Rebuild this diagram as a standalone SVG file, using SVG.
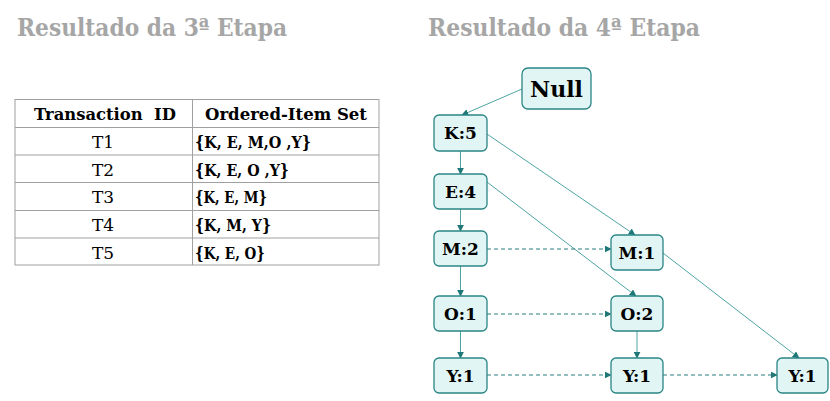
<svg xmlns="http://www.w3.org/2000/svg" width="830" height="401" viewBox="0 0 830 401">
<defs>
<style>
.title{font-family:"DejaVu Serif","Liberation Serif",serif;font-weight:bold;font-size:24px;fill:#a6a6a6}
.th{font-family:"DejaVu Serif","Liberation Serif",serif;font-weight:bold;font-size:16px;fill:#000;white-space:pre}
.td{font-family:"DejaVu Serif","Liberation Serif",serif;font-size:17px;fill:#000}
.tdb{font-family:"DejaVu Serif","Liberation Serif",serif;font-weight:bold;font-size:16.5px;fill:#000}
.grid{stroke:#a0a0a0;stroke-width:1;fill:none}
.node rect{fill:#e1f5f4;stroke:#2a8585;stroke-width:1.3}
.node text{font-family:"DejaVu Serif","Liberation Serif",serif;font-weight:bold;font-size:17px;fill:#000;text-anchor:middle}
.e{stroke:#3a9a9a;stroke-width:0.9;fill:none;marker-end:url(#ah)}
.d{stroke:#2a7f7f;stroke-width:1;fill:none;stroke-dasharray:4,3;marker-end:url(#ah)}
</style>
<marker id="ah" viewBox="0 0 10 10" refX="9" refY="5" markerWidth="7" markerHeight="7" markerUnits="userSpaceOnUse" orient="auto">
<path d="M0,0 L10,5 L0,10 z" fill="#1f7777"/>
</marker>
</defs>
<rect width="830" height="401" fill="#fff"/>
<text class="title" x="17" y="36" textLength="270" lengthAdjust="spacingAndGlyphs">Resultado da 3ª Etapa</text>
<text class="title" x="428" y="36" textLength="272" lengthAdjust="spacingAndGlyphs">Resultado da 4ª Etapa</text>

<g id="table">
<rect class="grid" x="15" y="99.5" width="364" height="165.5"/>
<line class="grid" x1="192.5" y1="99.5" x2="192.5" y2="265"/>
<line class="grid" x1="15" y1="127.5" x2="379" y2="127.5"/>
<line class="grid" x1="15" y1="155" x2="379" y2="155"/>
<line class="grid" x1="15" y1="182.5" x2="379" y2="182.5"/>
<line class="grid" x1="15" y1="210.5" x2="379" y2="210.5"/>
<line class="grid" x1="15" y1="238" x2="379" y2="238"/>
<text class="th" x="34" y="120" textLength="142" lengthAdjust="spacingAndGlyphs">Transaction  ID</text>
<text class="th" x="205" y="120" textLength="162" lengthAdjust="spacingAndGlyphs">Ordered-Item Set</text>
<text class="td" x="103" y="148" text-anchor="middle">T1</text>
<text class="td" x="103" y="175.5" text-anchor="middle">T2</text>
<text class="td" x="103" y="203" text-anchor="middle">T3</text>
<text class="td" x="103" y="231" text-anchor="middle">T4</text>
<text class="td" x="103" y="258.5" text-anchor="middle">T5</text>
<text class="tdb" x="195" y="148" textLength="116" lengthAdjust="spacingAndGlyphs">{K, E, M,O ,Y}</text>
<text class="tdb" x="195" y="175.5" textLength="94" lengthAdjust="spacingAndGlyphs">{K, E, O ,Y}</text>
<text class="tdb" x="195" y="203" textLength="72" lengthAdjust="spacingAndGlyphs">{K, E, M}</text>
<text class="tdb" x="195" y="231" textLength="76" lengthAdjust="spacingAndGlyphs">{K, M, Y}</text>
<text class="tdb" x="195" y="258.5" textLength="70" lengthAdjust="spacingAndGlyphs">{K, E, O}</text>
</g>

<g id="connectors">
<line class="e" x1="522" y1="89" x2="462" y2="115"/>
<line class="e" x1="460.5" y1="151" x2="460.5" y2="174"/>
<line class="e" x1="460.5" y1="209" x2="460.5" y2="231"/>
<line class="e" x1="460.5" y1="266" x2="460.5" y2="296"/>
<line class="e" x1="460.5" y1="331" x2="460.5" y2="358"/>
<line class="e" x1="487" y1="134" x2="635" y2="235"/>
<line class="e" x1="487" y1="182" x2="636" y2="296"/>
<line class="e" x1="663" y1="253" x2="799" y2="358"/>
<line class="e" x1="637" y1="331" x2="637" y2="358"/>
<line class="d" x1="487" y1="249" x2="611" y2="249"/>
<line class="d" x1="487" y1="314" x2="611" y2="314"/>
<line class="d" x1="487" y1="375" x2="611" y2="375"/>
<line class="d" x1="663" y1="375" x2="777" y2="375"/>
</g>

<g id="n-null" class="node"><rect x="522" y="68" width="69" height="41" rx="6"/><text x="556.5" y="96.5" style="font-size:22px">Null</text></g>
<g id="n-k5" class="node"><rect x="434" y="115" width="53" height="36" rx="5"/><text x="460.5" y="139">K:5</text></g>
<g id="n-e4" class="node"><rect x="434" y="174" width="53" height="35" rx="5"/><text x="460.5" y="197.5">E:4</text></g>
<g id="n-m2" class="node"><rect x="434" y="231" width="53" height="35" rx="5"/><text x="460.5" y="254.5">M:2</text></g>
<g id="n-o1" class="node"><rect x="434" y="296" width="53" height="35" rx="5"/><text x="460.5" y="319.5">O:1</text></g>
<g id="n-y1a" class="node"><rect x="434" y="358" width="53" height="35" rx="5"/><text x="460.5" y="381.5">Y:1</text></g>
<g id="n-m1" class="node"><rect x="611" y="235" width="52" height="35" rx="5"/><text x="637" y="258.5">M:1</text></g>
<g id="n-o2" class="node"><rect x="611" y="296" width="52" height="35" rx="5"/><text x="637" y="319.5">O:2</text></g>
<g id="n-y1b" class="node"><rect x="611" y="358" width="52" height="35" rx="5"/><text x="637" y="381.5">Y:1</text></g>
<g id="n-y1c" class="node"><rect x="777" y="358" width="51" height="35" rx="5"/><text x="802.5" y="381.5">Y:1</text></g>
</svg>
